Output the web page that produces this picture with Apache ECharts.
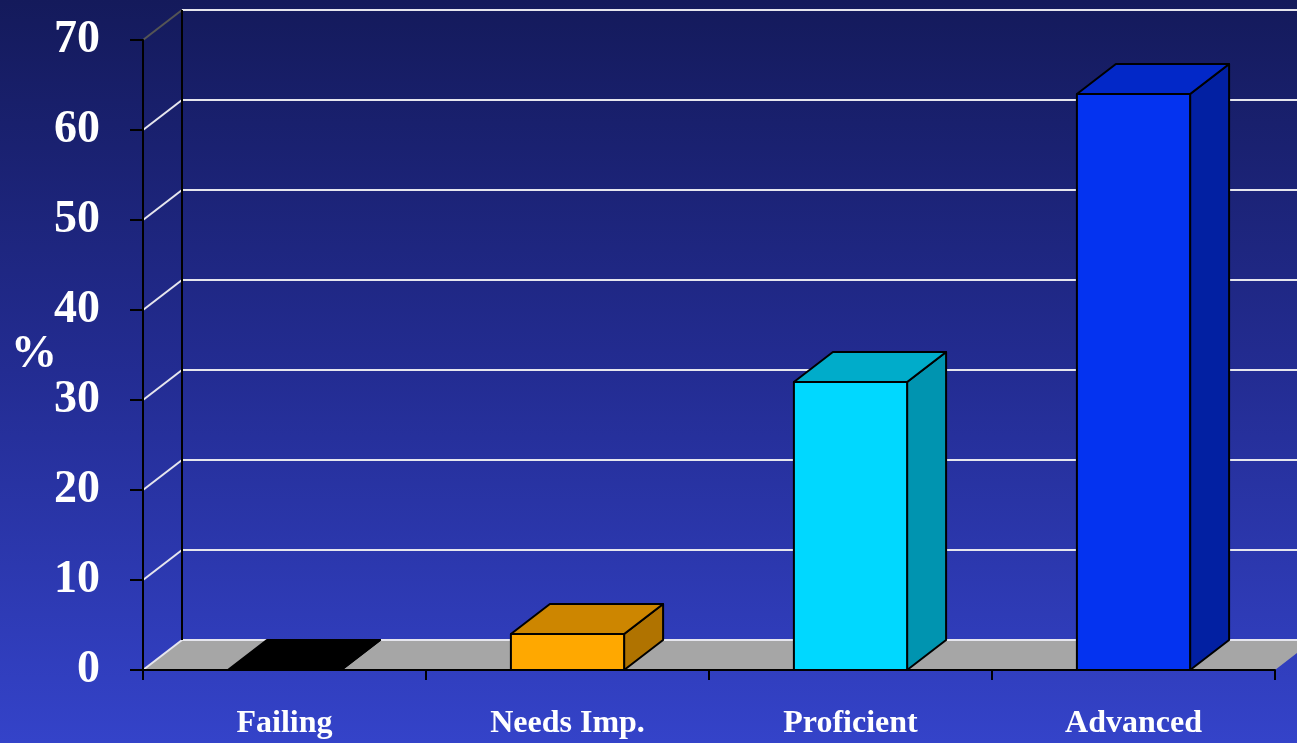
<!DOCTYPE html>
<html>
<head>
<meta charset="utf-8">
<script src="https://cdn.jsdelivr.net/npm/echarts@6/dist/echarts.min.js"></script>
<style>
  html, body { margin: 0; padding: 0; }
  #chart { width: 1297px; height: 743px; }
</style>
</head>
<body>
<div id="chart"></div>
<script>
// data
var categories = ['Failing', 'Needs Imp.', 'Proficient', 'Advanced'];
var percents = [0, 4, 32, 64];
var yTicks = [0, 10, 20, 30, 40, 50, 60, 70];

// bar faces (front / top / side)
var frontColors = ['#000000', '#ffa800', '#00d8ff', '#0433f0'];
var topColors = ['#000000', '#cd8600', '#00acca', '#0228c8'];
var sideColors = ['#000000', '#b07300', '#0094b0', '#0220a2'];

// 3d depth offset in px
var DX = 39, DY = -30;

var myChart = echarts.init(document.getElementById('chart'));

function renderFloor(params, api) {
  var cs = params.coordSys;
  var y0 = api.coord([0, 0])[1];
  var x0 = cs.x, x1 = cs.x + cs.width;
  return {
    type: 'polygon',
    shape: { points: [[x0, y0], [x1, y0], [x1 + DX, y0 + DY], [x0 + DX, y0 + DY]] },
    style: { fill: '#a6a6a6', stroke: null }
  };
}

function renderWall(params, api) {
  var cs = params.coordSys;
  var v = api.value(1);
  var y = api.coord([0, v])[1];
  var left = cs.x;
  // top diagonal is drawn darker like in the original
  var diag = v === yTicks[yTicks.length - 1] ? '#555' : '#e6e6ee';
  return {
    type: 'group',
    children: [
      {
        type: 'line',
        shape: { x1: left, y1: y, x2: left + DX, y2: y + DY },
        style: { stroke: diag, lineWidth: 2 }
      },
      {
        type: 'line',
        shape: { x1: left + DX, y1: y + DY, x2: cs.x + cs.width + DX + 60, y2: y + DY },
        style: { stroke: '#e6e6ee', lineWidth: 2 }
      }
    ]
  };
}

function renderBackAxis(params, api) {
  var cs = params.coordSys;
  var yb = api.coord([0, 0])[1];
  var yt = api.coord([0, yTicks[yTicks.length - 1]])[1];
  return {
    type: 'line',
    shape: { x1: cs.x + DX, y1: yb + DY, x2: cs.x + DX, y2: yt + DY },
    style: { stroke: '#000', lineWidth: 2 }
  };
}

function renderBar(params, api) {
  var i = api.value(0);
  var base = api.coord([i, 0]);
  var top = api.coord([i, api.value(1)]);
  var w = api.size([1, 0])[0] * 0.4;
  var x0 = base[0] - w / 2, x1 = base[0] + w / 2;
  var yb = base[1], yt = top[1];
  var line = { stroke: '#000', lineWidth: 2, lineJoin: 'round' };
  var kids = [];
  kids.push({
    type: 'polygon',
    shape: { points: [[x1, yt], [x1 + DX, yt + DY], [x1 + DX, yb + DY], [x1, yb]] },
    style: Object.assign({ fill: sideColors[i] }, line)
  });
  kids.push({
    type: 'polygon',
    shape: { points: [[x0, yt], [x0 + DX, yt + DY], [x1 + DX, yt + DY], [x1, yt]] },
    style: Object.assign({ fill: topColors[i] }, line)
  });
  if (yb - yt > 0.5) {
    kids.push({
      type: 'rect',
      shape: { x: x0, y: yt, width: w, height: yb - yt },
      style: Object.assign({ fill: frontColors[i] }, line)
    });
  }
  return { type: 'group', children: kids };
}

myChart.setOption({
  backgroundColor: new echarts.graphic.LinearGradient(0, 0, 0, 1, [
    { offset: 0, color: '#141a5b' },
    { offset: 0.5, color: '#232c92' },
    { offset: 1, color: '#3443c9' }
  ]),
  animation: false,
  grid: { left: 143, right: 22, top: 40, bottom: 73, outerBoundsMode: 'none' },
  xAxis: {
    type: 'category',
    data: categories,
    z: 10,
    axisLine: { lineStyle: { color: '#000', width: 2 } },
    axisTick: { show: true, length: 10, lineStyle: { color: '#000', width: 2 } },
    axisLabel: {
      margin: 38,
      color: '#fff',
      fontFamily: 'Liberation Serif',
      fontWeight: 'bold',
      fontSize: 32
    },
    splitLine: { show: false }
  },
  yAxis: {
    type: 'value',
    min: 0,
    max: 70,
    interval: 10,
    z: 10,
    name: '%',
    nameLocation: 'middle',
    nameRotate: 0,
    nameGap: 86,
    nameMoveOverlap: false,
    nameTextStyle: {
      color: '#fff',
      fontFamily: 'Liberation Serif',
      fontWeight: 'bold',
      fontSize: 46,
      padding: [0, 0, 14, 0]
    },
    axisLine: { show: true, lineStyle: { color: '#000', width: 2 } },
    axisTick: { show: true, length: 13, lineStyle: { color: '#000', width: 2 } },
    axisLabel: {
      margin: 43,
      color: '#fff',
      fontFamily: 'Liberation Serif',
      fontWeight: 'bold',
      fontSize: 46
    },
    splitLine: { show: false }
  },
  series: [
    {
      name: 'floor',
      type: 'custom',
      z: 1,
      clip: false,
      silent: true,
      renderItem: renderFloor,
      data: [[0, 0]]
    },
    {
      name: 'wall',
      type: 'custom',
      z: 2,
      clip: false,
      silent: true,
      renderItem: renderWall,
      data: yTicks.map(function (v) { return [0, v]; })
    },
    {
      name: 'backAxis',
      type: 'custom',
      z: 3,
      clip: false,
      silent: true,
      renderItem: renderBackAxis,
      data: [[0, 0]]
    },
    {
      name: '%',
      type: 'custom',
      z: 4,
      clip: false,
      renderItem: renderBar,
      encode: { x: 0, y: 1 },
      data: percents.map(function (v, i) { return [i, v]; })
    }
  ]
});
</script>
</body>
</html>
